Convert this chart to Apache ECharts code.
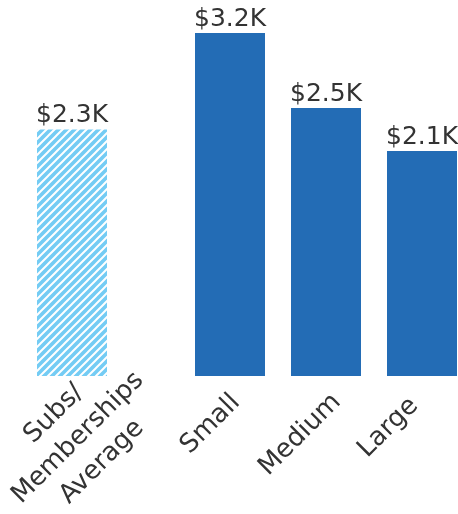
<!DOCTYPE html>
<html>
<head>
<meta charset="utf-8">
<script src="https://cdn.jsdelivr.net/npm/echarts@6/dist/echarts.min.js"></script>
<style>
  html, body { margin: 0; padding: 0; background: #ffffff; }
  #chart { width: 458px; height: 514px; }
</style>
</head>
<body>
<div id="chart"></div>
<script>
// Average spend across subscriptions / memberships
const avgCategories = ['Subs/\nMemberships\nAverage'];
const avgValues = [2300];

// Spend by business size
const sizeCategories = ['Small', 'Medium', 'Large'];
const sizeValues = [3200, 2500, 2100];

const valueMax = 3200;

const FONT = 'DejaVu Sans';
const TEXT_COLOR = '#333333';
const BAR_BLUE = '#236cb5';
const HATCH_BLUE = '#74ccf4';

// Diagonal "/" stripes used to fill the average bar
function stripePattern() {
  const p = 8;
  const c = document.createElement('canvas');
  c.width = p; c.height = p;
  const ctx = c.getContext('2d');
  ctx.fillStyle = HATCH_BLUE;
  ctx.fillRect(0, 0, p, p);
  ctx.strokeStyle = '#ffffff';
  ctx.lineWidth = 2;
  ctx.beginPath();
  ctx.moveTo(-2, 2); ctx.lineTo(2, -2);
  ctx.moveTo(0, p); ctx.lineTo(p, 0);
  ctx.moveTo(p - 2, p + 2); ctx.lineTo(p + 2, p - 2);
  ctx.stroke();
  return c;
}

const money = v => '$' + (v / 1000).toFixed(1) + 'K';

const valueLabel = {
  show: true,
  position: 'top',
  distance: 1,
  formatter: p => money(p.value),
  fontFamily: FONT,
  fontSize: 25,
  color: TEXT_COLOR
};

const catFont = { fontFamily: FONT, fontSize: 26, color: TEXT_COLOR, lineHeight: 30 };

// Per-label nudges for the rotated size labels
const sizeLabelStyles = {
  s: Object.assign({ padding: [25, 4, 0, 0] }, catFont),
  m: Object.assign({ padding: [31, 0, 0, 0] }, catFont),
  l: Object.assign({ padding: [10, 16, 0, 0] }, catFont)
};
const sizeLabelKey = { Small: 's', Medium: 'm', Large: 'l' };

const chart = echarts.init(document.getElementById('chart'), null, { renderer: 'canvas' });

chart.setOption({
  animation: false,
  backgroundColor: '#ffffff',
  grid: [
    { left: 37, width: 70, top: 33, bottom: 138, containLabel: false, outerBoundsMode: 'none' },
    { left: 182, width: 288, top: 33, bottom: 138, containLabel: false, outerBoundsMode: 'none' }
  ],
  xAxis: [
    {
      type: 'category', gridIndex: 0, data: avgCategories,
      axisLine: { show: false }, axisTick: { show: false },
      axisLabel: Object.assign({
        interval: 0, rotate: 45, align: 'center', verticalAlign: 'middle',
        margin: 68, padding: [0, 0, 0, 17]
      }, catFont, { lineHeight: 34 })
    },
    {
      type: 'category', gridIndex: 1, data: sizeCategories,
      axisLine: { show: false }, axisTick: { show: false },
      axisLabel: Object.assign({
        interval: 0, rotate: 45, margin: 11,
        formatter: v => '{' + sizeLabelKey[v] + '|' + v + '}',
        rich: sizeLabelStyles
      }, catFont)
    }
  ],
  yAxis: [
    { type: 'value', gridIndex: 0, min: 0, max: valueMax, show: false },
    { type: 'value', gridIndex: 1, min: 0, max: valueMax, show: false }
  ],
  series: [
    {
      type: 'bar', xAxisIndex: 0, yAxisIndex: 0,
      data: avgValues, barWidth: 70,
      itemStyle: { color: { image: stripePattern(), repeat: 'repeat' } },
      label: valueLabel
    },
    {
      type: 'bar', xAxisIndex: 1, yAxisIndex: 1,
      data: sizeValues, barWidth: 70,
      itemStyle: { color: BAR_BLUE },
      label: valueLabel
    }
  ]
});
</script>
</body>
</html>
